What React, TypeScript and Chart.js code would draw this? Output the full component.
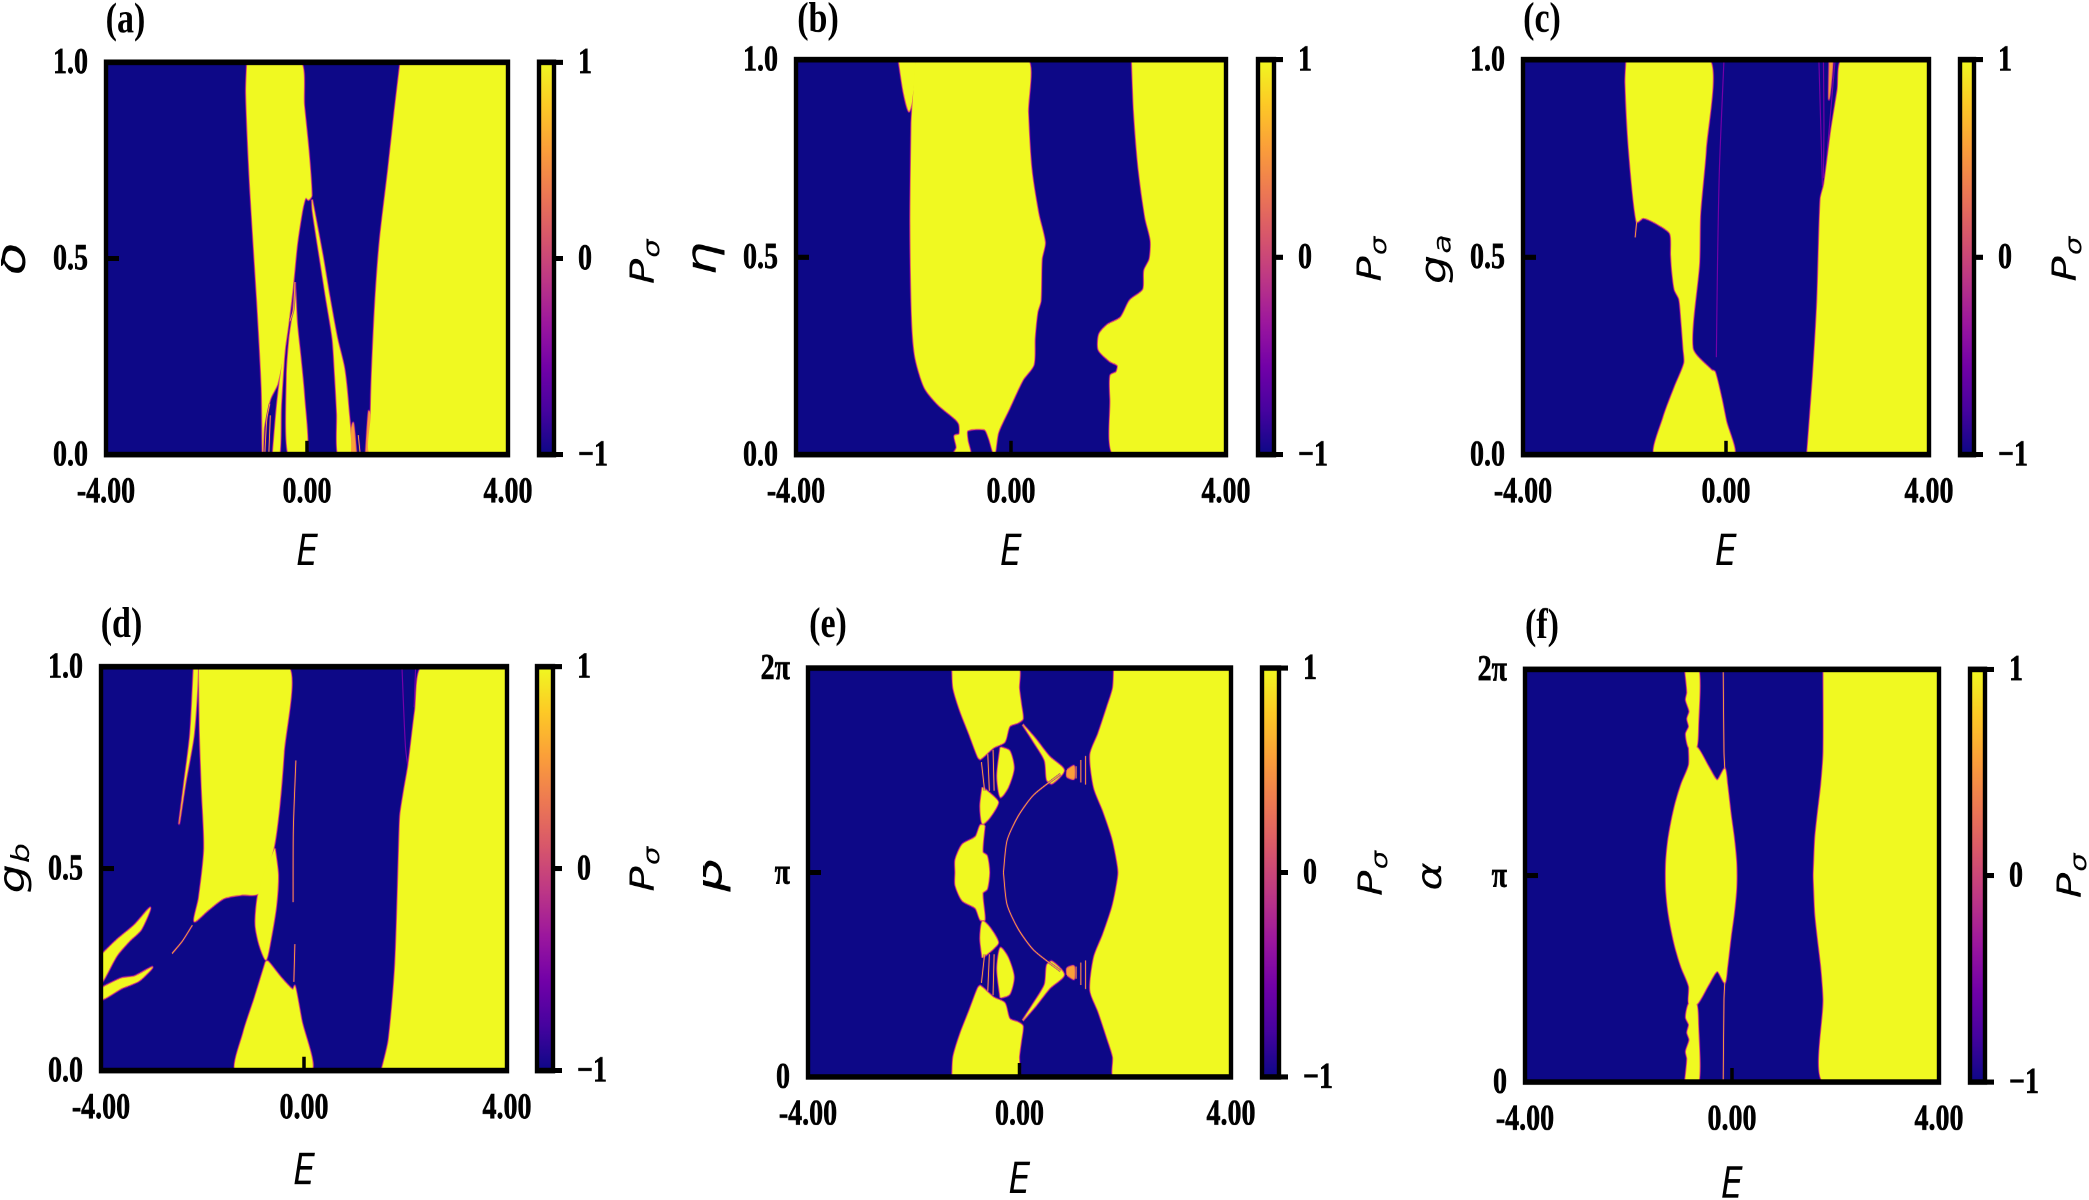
import React, { useEffect, useRef } from "react";
import { Chart, registerables } from "chart.js";

Chart.register(...registerables);

type Pt = [number, number];

// ---------- values: E on x, parameter on y (y of panels e, f is in units of 2π) ----------
const xTickValues = [-4, 0, 4];
const xTickLabels = ["-4.00", "0.00", "4.00"];
const yTickValues = [0, 0.5, 1];
const yTickLabelsUnit = ["0.0", "0.5", "1.0"];
const yTickLabelsPi = ["0", "π", "2π"];
const barTickValues = [-1, 0, 1];
const barTickLabels = ["−1", "0", "1"];
const plasmaStops = ["#0d0887", "#46039f", "#7201a8", "#9c179e", "#bd3786", "#d8576b", "#ed7953", "#fb9f3a", "#fdca26", "#f0f921"];

const panelAYellow: Pt[][] = [
  [[1.86, 1], [1.74, 0.87], [1.62, 0.73], [1.45, 0.545], [1.36, 0.39], [1.29, 0.2], [1.27, 0.1], [1.27, 0], [4, 0], [4, 1]],
  [[-1.19, 1], [-1.21, 0.92], [-1.13, 0.68], [-0.99, 0.39], [-0.9, 0.17], [-0.88, 0], [-0.86, 0.066], [-0.82, 0.095], [-0.73, 0.143], [-0.59, 0.18], [-0.46, 0.258], [-0.37, 0.334], [-0.28, 0.43], [-0.2, 0.535], [-0.1, 0.62], [-0.05, 0.648], [-0.02, 0.655], [0.03, 0.65], [0.09, 0.66], [0.03, 0.775], [-0.06, 0.89], [-0.13, 1]],
  [[-0.24, 0.44], [-0.2, 0.334], [-0.13, 0.248], [-0.06, 0.152], [-0.01, 0], [-0.37, 0], [-0.4, 0.2], [-0.35, 0.296], [-0.28, 0.363]],
  [[-0.68, 0], [-0.6, 0.12], [-0.5, 0.23], [-0.42, 0.3], [-0.46, 0.24], [-0.52, 0.12], [-0.55, 0]],
  [[0.1, 0.65], [0.31, 0.507], [0.45, 0.4], [0.6, 0.296], [0.74, 0.22], [0.82, 0.124], [0.87, 0], [0.62, 0], [0.6, 0.104], [0.56, 0.2], [0.51, 0.296], [0.38, 0.4], [0.25, 0.507], [0.115, 0.62]],
];
const panelASoft: Pt[][] = [
  [[1.17, 0], [1.23, 0.11], [1.27, 0.1], [1.27, 0]],
  [[0.98, 0], [0.92, 0.08], [0.88, 0.06], [0.87, 0]],
];
const panelAStreaks: Pt[][] = [
  [[-0.24, 0.44], [-0.27, 0.37], [-0.34, 0.34]],
  [[-0.84, 0], [-0.8, 0.09], [-0.74, 0.13]],
  [[-0.76, 0], [-0.73, 0.1]],
  [[1.06, 0], [1.02, 0.05]],
];
const panelAFaint: Pt[][] = [];

const panelBYellow: Pt[][] = [
  [[2.25, 1], [2.29, 0.866], [2.375, 0.723], [2.5, 0.6], [2.6, 0.542], [2.58, 0.495], [2.48, 0.466], [2.46, 0.418], [2.21, 0.39], [2.04, 0.347], [1.79, 0.328], [1.64, 0.304], [1.63, 0.266], [1.84, 0.237], [1.985, 0.226], [1.96, 0.209], [1.85, 0.2], [1.85, 0.142], [1.92, 0], [4, 0], [4, 1]],
  [[-2.09, 1], [-2, 0.92], [-1.9, 0.87], [-1.84, 0.895], [-1.79, 1]],
  [[-1.78, 1], [-1.84, 0.866], [-1.85, 0.837], [-1.87, 0.58], [-1.84, 0.342], [-1.78, 0.247], [-1.61, 0.171], [-1.36, 0.128], [-1.03, 0.09], [-0.96, 0.076], [-0.96, 0.052], [-1.05, 0.047], [-1.01, 0.018], [-1.07, 0], [-0.76, 0], [-0.81, 0.037], [-0.81, 0.061], [-0.49, 0.064], [-0.41, 0.042], [-0.31, 0], [-0.24, 0.056], [-0.03, 0.118], [0.22, 0.19], [0.42, 0.228], [0.44, 0.295], [0.49, 0.361], [0.55, 0.39], [0.57, 0.495], [0.63, 0.537], [0.51, 0.609], [0.38, 0.723], [0.316, 0.866], [0.3, 1]],
];
const panelBSoft: Pt[][] = [];
const panelBStreaks: Pt[][] = [];
const panelBFaint: Pt[][] = [];

const panelCYellow: Pt[][] = [
  [[1.6, 0], [1.715, 0.2], [1.8, 0.39], [1.865, 0.647], [1.935, 0.685], [2.07, 0.818], [2.2, 0.923], [2.29, 1], [4, 1], [4, 0]],
  [[-1.96, 1], [-1.98, 0.942], [-1.91, 0.77], [-1.76, 0.59], [-1.63, 0.6], [-1.36, 0.585], [-1.1, 0.56], [-1.08, 0.504], [-1.06, 0.466], [-1.01, 0.418], [-0.92, 0.394], [-0.88, 0.342], [-0.835, 0.266], [-0.82, 0.232], [-1.01, 0.171], [-1.23, 0.095], [-1.4, 0], [0.15, 0], [0, 0.085], [-0.09, 0.142], [-0.22, 0.209], [-0.29, 0.214], [-0.66, 0.27], [-0.53, 0.485], [-0.51, 0.609], [-0.4, 0.77], [-0.33, 1]],
];
const panelCSoft: Pt[][] = [
  [[2.04, 1], [2.1, 1], [2.03, 0.9]],
];
const panelCStreaks: Pt[][] = [
  [[-1.76, 0.59], [-1.79, 0.55]],
];
const panelCFaint: Pt[][] = [
  [[-0.19, 0.247], [-0.167, 0.485], [-0.13, 0.723], [-0.04, 1]],
  [[1.83, 1], [1.87, 0.82], [1.9, 0.68]],
  [[1.92, 1], [1.93, 0.83], [1.92, 0.7]],
  [[2.15, 1], [2.05, 0.85], [1.95, 0.7]],
];

const panelDYellow: Pt[][] = [
  [[1.53, 0], [1.67, 0.076], [1.8, 0.266], [1.885, 0.597], [1.9, 0.635], [1.97, 0.692], [2.06, 0.758], [2.19, 0.891], [2.33, 1], [4, 1], [4, 0]],
  [[-2.07, 1], [-2.05, 0.834], [-2.01, 0.692], [-1.965, 0.55], [-2.07, 0.427], [-2.16, 0.37], [-1.89, 0.398], [-1.585, 0.427], [-1.23, 0.436], [-0.9, 0.438], [-0.795, 0.474], [-0.6, 0.55], [-0.487, 0.654], [-0.4, 0.787], [-0.31, 1]],
  [[-0.576, 0.55], [-0.513, 0.484], [-0.55, 0.408], [-0.66, 0.323], [-0.75, 0.275], [-0.88, 0.313], [-0.953, 0.36], [-0.926, 0.417], [-0.84, 0.47], [-0.706, 0.512]],
  [[-0.75, 0.27], [-0.97, 0.18], [-1.19, 0.095], [-1.34, 0], [0.145, 0], [-0.05, 0.124], [-0.18, 0.209], [-0.22, 0.2], [-0.44, 0.228], [-0.71, 0.27]],
  [[-2.17, 1], [-2.24, 0.834], [-2.36, 0.711], [-2.46, 0.612], [-2.34, 0.711], [-2.17, 0.834], [-2.09, 1]],
  [[-4, 0.285], [-3.69, 0.323], [-3.34, 0.36], [-3.03, 0.403], [-3.21, 0.35], [-3.43, 0.323], [-3.69, 0.285], [-4, 0.218]],
  [[-4, 0.204], [-3.6, 0.228], [-3.34, 0.233], [-2.99, 0.256], [-3.25, 0.223], [-3.6, 0.204], [-4, 0.176]],
];
const panelDSoft: Pt[][] = [];
const panelDStreaks: Pt[][] = [
  [[-0.16, 0.768], [-0.21, 0.597], [-0.215, 0.417]],
  [[-0.18, 0.313], [-0.2, 0.22]],
  [[-2.6, 0.29], [-2.4, 0.32], [-2.2, 0.36]],
];
const panelDFaint: Pt[][] = [
  [[1.93, 1], [2.0, 0.8], [2.06, 0.74]],
  [[2.2, 1], [2.17, 0.9]],
];

// Panels e and f are mirror-symmetric around y = π (0.5 in these units): only the upper half is listed.
const panelERightEdge: Pt[] = [[1.79, 1], [1.77, 0.951], [1.66, 0.905], [1.49, 0.839], [1.34, 0.788], [1.41, 0.708], [1.58, 0.652], [1.75, 0.587], [1.83, 0.54], [1.873, 0.5]];
const panelEUpperYellow: Pt[][] = [
  [[-1.27, 1], [-1.25, 0.951], [-1.12, 0.895], [-0.95, 0.839], [-0.785, 0.783], [-0.74, 0.778], [-0.49, 0.806], [-0.28, 0.82], [-0.19, 0.858], [-0.025, 0.867], [0.06, 0.876], [0.03, 0.91], [-0.01, 0.95], [-0.025, 1]],
  [[-0.36, 0.806], [-0.19, 0.797], [-0.11, 0.755], [-0.22, 0.708], [-0.36, 0.685], [-0.42, 0.736]],
  [[-0.7, 0.708], [-0.49, 0.685], [-0.405, 0.671], [-0.57, 0.634], [-0.7, 0.62], [-0.74, 0.662]],
  [[0.06, 0.862], [0.31, 0.825], [0.565, 0.783], [0.84, 0.75], [0.61, 0.718], [0.52, 0.727], [0.48, 0.774], [0.27, 0.82]],
];
const panelECenterHalf: Pt[] = [[-1.21, 0.5], [-1.21, 0.531], [-1.08, 0.568], [-0.83, 0.587], [-0.74, 0.615], [-0.66, 0.615], [-0.7, 0.55], [-0.616, 0.54], [-0.574, 0.5]];
const panelEUpperSoft: Pt[][] = [
  [[0.9, 0.75], [1.03, 0.76], [1.03, 0.73], [0.9, 0.735]],
];
const panelEUpperStreaks: Pt[][] = [
  [[-0.304, 0.5], [-0.236, 0.578], [-0.025, 0.638], [0.27, 0.69], [0.776, 0.741]],
  [[1.07, 0.73], [1.07, 0.76]],
  [[1.16, 0.72], [1.16, 0.775]],
  [[1.25, 0.715], [1.25, 0.785]],
  [[-0.72, 0.77], [-0.66, 0.7]],
  [[-0.6, 0.79], [-0.57, 0.7]],
  [[-0.5, 0.8], [-0.48, 0.7]],
];

const panelFRightEdge: Pt[] = [[1.77, 1], [1.77, 0.8], [1.726, 0.722], [1.657, 0.648], [1.61, 0.592], [1.59, 0.537], [1.58, 0.5]];
const panelFLensHalf: Pt[] = [[-1.277, 0.5], [-1.27, 0.537], [-1.234, 0.583], [-1.17, 0.63], [-1.087, 0.676], [-0.975, 0.722], [-0.83, 0.768], [-0.83, 0.81], [-0.673, 0.81], [-0.457, 0.764], [-0.285, 0.731], [-0.14, 0.759], [-0.095, 0.722], [-0.026, 0.648], [0.035, 0.592], [0.078, 0.537], [0.086, 0.5]];
const panelFUpperYellow: Pt[][] = [
  [[-0.906, 1], [-0.863, 0.944], [-0.889, 0.926], [-0.82, 0.898], [-0.863, 0.88], [-0.83, 0.861], [-0.889, 0.843], [-0.83, 0.81], [-0.69, 0.81], [-0.656, 0.861], [-0.647, 1]],
];
const panelFUpperStreaks: Pt[][] = [
  [[-0.17, 1], [-0.155, 0.8], [-0.14, 0.76]],
];

// ---------- helpers ----------
const mirrorY = (pts: Pt[]): Pt[] => pts.map(([x, y]) => [x, 1 - y] as Pt);
const lens = (half: Pt[]): Pt[] => [...half, ...mirrorY(half).reverse()];
// a closed mirrored outline that starts at one of its real corners, so the y = π bulges stay round
const ring = (half: Pt[], start: number): Pt[] => {
  const all = lens(half);
  return [...all.slice(start), ...all.slice(0, start)];
};
const both = (list: Pt[][]): Pt[][] => [...list, ...list.map(mirrorY)];

const K = 1.27; // the reference is stretched vertically; everything is laid out in unstretched rows
const NAVY = plasmaStops[0];
const YELLOW = plasmaStops[plasmaStops.length - 1];
const PL = 105, PT = 55, PR = 35, PB = 110, BAR_PR = 125;
const FRAME = 4.4;

type Panel = {
  letter: string; letterX: number; letterY: number;
  L: number; R: number; T: number; B: number;
  barL: number; barR: number;
  yMain: string; ySub: string; yX: number; yY: number; ySize: number;
  pX: number; pY: number; eY: number;
  yLabels: string[];
  yellow: Pt[][]; soft: Pt[][]; streaks: Pt[][]; faint: Pt[][];
};

const panels: Panel[] = [
  { letter: "(a)", letterX: 125, letterY: 21, L: 105.5, R: 508, T: 62, B: 455, barL: 539, barR: 554, yMain: "δ", ySub: "", yX: 13.5, yY: 258, ySize: 42, pX: 645, pY: 262, eY: 554, yLabels: yTickLabelsUnit, yellow: panelAYellow, soft: panelASoft, streaks: panelAStreaks, faint: panelAFaint },
  { letter: "(b)", letterX: 818, letterY: 21, L: 796, R: 1226, T: 60, B: 455, barL: 1258, barR: 1274, yMain: "η", ySub: "", yX: 705, yY: 259, ySize: 42, pX: 1372, pY: 260, eY: 554, yLabels: yTickLabelsUnit, yellow: panelBYellow, soft: panelBSoft, streaks: panelBStreaks, faint: panelBFaint },
  { letter: "(c)", letterX: 1542, letterY: 21, L: 1523, R: 1929, T: 60, B: 455, barL: 1960, barR: 1974, yMain: "g", ySub: "a", yX: 1436, yY: 260, ySize: 36, pX: 2067, pY: 260, eY: 554, yLabels: yTickLabelsUnit, yellow: panelCYellow, soft: panelCSoft, streaks: panelCStreaks, faint: panelCFaint },
  { letter: "(d)", letterX: 121, letterY: 626, L: 100.5, R: 507, T: 667, B: 1071, barL: 537, barR: 553, yMain: "g", ySub: "b", yX: 14, yY: 869, ySize: 36, pX: 645, pY: 870, eY: 1173, yLabels: yTickLabelsUnit, yellow: panelDYellow, soft: panelDSoft, streaks: panelDStreaks, faint: panelDFaint },
  { letter: "(e)", letterX: 828, letterY: 626, L: 808, R: 1231, T: 668, B: 1078, barL: 1262, barR: 1279.5, yMain: "β", ySub: "", yX: 710, yY: 874, ySize: 44, pX: 1373, pY: 874, eY: 1182, yLabels: yTickLabelsPi,
    yellow: [[...lens(panelERightEdge), [4, 0], [4, 1]], ring(panelECenterHalf, 5), ...both(panelEUpperYellow)], soft: both(panelEUpperSoft), streaks: both(panelEUpperStreaks), faint: [] },
  { letter: "(f)", letterX: 1542, letterY: 627, L: 1525, R: 1939, T: 669, B: 1082, barL: 1970, barR: 1985.5, yMain: "α", ySub: "", yX: 1432, yY: 876, ySize: 34, pX: 2072, pY: 876, eY: 1186, yLabels: yTickLabelsPi,
    yellow: [[...lens(panelFRightEdge), [4, 0], [4, 1]], ring(panelFLensHalf, 7), ...both(panelFUpperYellow)], soft: [], streaks: both(panelFUpperStreaks), faint: [] },
];

const dedupe = (p: Pt[]) => p.filter((q, i) => i === 0 || q[0] !== p[i - 1][0] || q[1] !== p[i - 1][1]);
const closed = (p: Pt[]) => {
  const d = dedupe([...p, p[0]]);
  return d.map(([x, y]) => ({ x, y }));
};
const open = (p: Pt[]) => p.map(([x, y]) => ({ x, y }));
const base = { showLine: true, pointRadius: 0, pointHoverRadius: 0, tension: 0.25, clip: 0 };

function buildDatasets(p: Panel) {
  const painted: any[] = [];
  // background of the map: P = -1
  painted.push({ ...base, tension: 0, data: closed([[-4, 0], [4, 0], [4, 1], [-4, 1]]), fill: "shape", backgroundColor: NAVY, borderWidth: 0 });
  for (const line of p.faint) painted.push({ ...base, data: open(line), fill: false, borderColor: "#7201a8", borderWidth: 1.2 });
  const areas = [...p.yellow, ...p.soft];
  for (const poly of areas) painted.push({ ...base, data: closed(poly), fill: false, borderColor: "rgba(114,1,168,0.8)", borderWidth: 3 });
  for (const poly of areas) painted.push({ ...base, data: closed(poly), fill: false, borderColor: "#e0665f", borderWidth: 1.6 });
  for (const poly of p.soft) painted.push({ ...base, data: closed(poly), fill: "shape", backgroundColor: "#fb9f3a", borderWidth: 0 });
  for (const poly of p.yellow) painted.push({ ...base, data: closed(poly), fill: "shape", backgroundColor: YELLOW, borderWidth: 0 });
  for (const line of p.streaks) painted.push({ ...base, data: open(line), fill: false, borderColor: "rgba(114,1,168,0.6)", borderWidth: 2.2 });
  for (const line of p.streaks) painted.push({ ...base, data: open(line), fill: false, borderColor: "#fca636", borderWidth: 0.9 });
  return painted.reverse(); // Chart.js paints the last index first
}

const tickFont = { family: "Liberation Serif", weight: "bold" as const, size: 28 };

function drawRotated(ctx: CanvasRenderingContext2D, x: number, y: number, main: string, sub: string, size = 33) {
  ctx.save();
  ctx.translate(x, y);
  ctx.rotate(-Math.PI / 2);
  ctx.fillStyle = "#000";
  ctx.textBaseline = "middle";
  ctx.textAlign = "left";
  const mf = `italic ${size}px "DejaVu Sans"`, sf = `italic ${Math.round(size * 0.7)}px "DejaVu Sans"`;
  ctx.font = mf;
  const mw = ctx.measureText(main).width;
  ctx.font = sf;
  const sw = sub ? ctx.measureText(sub).width : 0;
  const x0 = -(mw + sw) / 2;
  ctx.font = mf;
  ctx.fillText(main, x0, 0);
  if (sub) {
    ctx.font = sf;
    ctx.fillText(sub, x0 + mw + 1, 8);
  }
  ctx.restore();
}

function frame(chart: any) {
  const { ctx, chartArea: a } = chart;
  ctx.save();
  ctx.strokeStyle = "#000";
  ctx.lineWidth = FRAME;
  ctx.strokeRect(a.left, a.top, a.right - a.left, a.bottom - a.top);
  ctx.restore();
}

function PanelView({ p }: { p: Panel }) {
  const mainRef = useRef<HTMLCanvasElement>(null);
  const barRef = useRef<HTMLCanvasElement>(null);
  const h = (p.B - p.T) / K;
  const mainLeft = p.L - PL;
  const mainTop = p.T / K - PT;
  const barLeft = p.barL - 5;
  const barTop = p.T / K - 25;

  useEffect(() => {
    const main = new Chart(mainRef.current!, {
      type: "scatter",
      data: { datasets: buildDatasets(p) },
      options: {
        animation: false,
        responsive: false,
        devicePixelRatio: 2,
        events: [],
        layout: { padding: { top: PT, right: PR, left: 0, bottom: 0 } },
        plugins: { legend: { display: false }, tooltip: { enabled: false } },
        scales: {
          x: {
            type: "linear", min: -4, max: 4,
            afterFit: (s: any) => { s.height = PB; s.paddingLeft = 0; s.paddingRight = 0; },
            afterBuildTicks: (s: any) => { s.ticks = xTickValues.map((value) => ({ value })); },
            border: { display: false },
            grid: { drawOnChartArea: false, drawTicks: true, tickLength: -11, tickWidth: 3.5, tickColor: "#000", z: 2 },
            ticks: { autoSkip: false, maxRotation: 0, color: "#000", font: tickFont, padding: 24.5, z: 2, textStrokeColor: "#000", textStrokeWidth: 0.5,
              callback: (v: any) => xTickLabels[xTickValues.indexOf(Number(v))] },
          },
          y: {
            type: "linear", min: 0, max: 1,
            afterFit: (s: any) => { s.width = PL; s.paddingTop = 0; s.paddingBottom = 0; },
            afterBuildTicks: (s: any) => { s.ticks = yTickValues.map((value) => ({ value })); },
            border: { display: false },
            grid: { drawOnChartArea: false, drawTicks: true, tickLength: -13, tickWidth: 4, tickColor: "#000", z: 2 },
            ticks: { autoSkip: false, color: "#000", font: tickFont, padding: 31, z: 2, labelOffset: 1.2, textStrokeColor: "#000", textStrokeWidth: 0.5,
              callback: (v: any) => p.yLabels[yTickValues.indexOf(Number(v))] },
          },
        },
      } as any,
      plugins: [{
        id: "frameAndLabels",
        afterDraw(chart: any) {
          frame(chart);
          const { ctx } = chart;
          ctx.save();
          ctx.fillStyle = "#000";
          ctx.textAlign = "center";
          ctx.textBaseline = "middle";
          ctx.font = 'bold 34px "Liberation Serif"';
          ctx.fillText(p.letter, p.letterX - mainLeft, p.letterY / K - mainTop);
          ctx.font = 'italic 34px "DejaVu Sans"';
          ctx.fillText("E", (p.L + p.R) / 2 - mainLeft, p.eY / K - mainTop);
          ctx.restore();
          drawRotated(ctx, p.yX - mainLeft, p.yY / K - mainTop, p.yMain, p.ySub, p.ySize);
        },
      }],
    });
    const bar = new Chart(barRef.current!, {
      type: "bar",
      data: {
        labels: ["P"],
        datasets: [{
          data: [[barTickValues[0], barTickValues[2]]],
          barPercentage: 1,
          categoryPercentage: 1,
          backgroundColor: (c: any) => {
            const a = c.chart.chartArea;
            if (!a) return NAVY;
            const g = c.chart.ctx.createLinearGradient(0, a.bottom, 0, a.top);
            plasmaStops.forEach((col, i) => g.addColorStop(i / (plasmaStops.length - 1), col));
            return g;
          },
        }],
      },
      options: {
        animation: false,
        responsive: false,
        devicePixelRatio: 2,
        events: [],
        layout: { padding: { top: 25, bottom: 25, left: 5, right: 0 } },
        plugins: { legend: { display: false }, tooltip: { enabled: false } },
        scales: {
          x: { display: false },
          y: {
            position: "right", min: -1, max: 1,
            afterFit: (s: any) => { s.width = BAR_PR; s.paddingTop = 0; s.paddingBottom = 0; },
            afterBuildTicks: (s: any) => { s.ticks = barTickValues.map((value) => ({ value })); },
            border: { display: false },
            grid: { drawOnChartArea: false, drawTicks: true, tickLength: 9, tickWidth: 4, tickColor: "#000", z: 2 },
            ticks: { autoSkip: false, color: "#000", font: tickFont, padding: 15, z: 2, labelOffset: 1.2, textStrokeColor: "#000", textStrokeWidth: 0.5,
              callback: (v: any) => barTickLabels[barTickValues.indexOf(Number(v))] },
          },
        },
      } as any,
      plugins: [{
        id: "barFrame",
        afterDraw(chart: any) {
          frame(chart);
          drawRotated(chart.ctx, p.pX - barLeft, p.pY / K - barTop, "P", "σ");
        },
      }],
    });
    return () => { main.destroy(); bar.destroy(); };
  }, []);

  return (
    <>
      <div style={{ position: "absolute", left: mainLeft, top: mainTop }}>
        <canvas ref={mainRef} width={p.R - p.L + PL + PR} height={h + PT + PB} />
      </div>
      <div style={{ position: "absolute", left: barLeft, top: barTop }}>
        <canvas ref={barRef} width={p.barR - p.barL + 5 + BAR_PR} height={h + 50} />
      </div>
    </>
  );
}

export default function App() {
  useEffect(() => {
    document.body.style.margin = "0";
    document.body.style.background = "#fff";
    document.documentElement.style.overflow = "hidden";
  }, []);
  return (
    <div style={{ position: "absolute", left: 0, top: 0, width: 2089, height: 1200 / K, overflow: "hidden", transform: `scaleY(${K})`, transformOrigin: "0 0", background: "#fff", filter: "blur(0.6px)" }}>
      {panels.map((p) => <PanelView key={p.letter} p={p} />)}
    </div>
  );
}
